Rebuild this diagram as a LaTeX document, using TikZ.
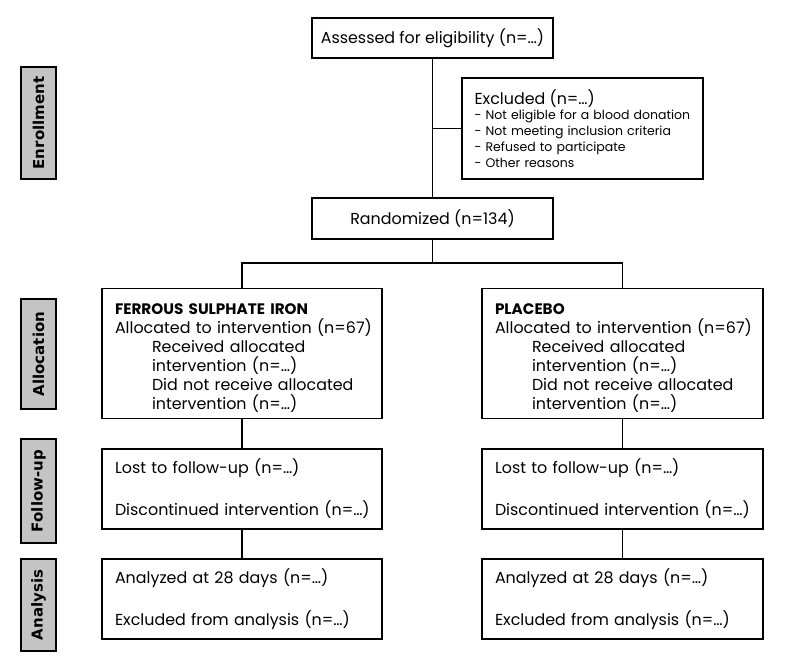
\documentclass[tikz,border=0pt]{standalone}
\usepackage{fontspec}
\setmainfont{Poppins}
\newfontfamily\labfont{DejaVu Sans}
\definecolor{labgray}{HTML}{C4C4C4}
\newcommand\oneline[1]{\mbox{#1}}
\newcommand\exsz{\fontsize{12.5}{16}\selectfont}
\newcommand\mainsz{\fontsize{15.9}{19}\selectfont}
\begin{document}
\begin{tikzpicture}[x=1pt,y=-1pt,
  box/.style={draw, line width=1.5pt, inner sep=0pt, font=\mainsz},
  side/.style={draw, line width=2pt, fill=labgray, inner sep=0pt, rotate=90,
    font=\labfont\bfseries\fontsize{15}{17}\selectfont},
  conn/.style={line width=1.5pt}]
\useasboundingbox (0,0) rectangle (785,669);
\fill[white] (0,0) rectangle (785,669);

% side labels
\node[side, minimum width=112pt, minimum height=35pt] (lenr) at (38.5,123) {Enrollment};
\node[side, minimum width=110pt, minimum height=35pt] (lall) at (38.5,354) {Allocation};
\node[side, minimum width=104pt, minimum height=35pt] (lfol) at (38.5,491) {Follow-up};
\node[side, minimum width=92pt, minimum height=35pt] (lana) at (38.5,605) {Analysis};

% enrollment
\node[box, minimum width=241pt, minimum height=40pt, align=center] (ass) at (432.5,38) {Assessed for eligibility (n=…)};
\node[box, minimum width=241pt, minimum height=101pt, text width=216pt, align=left, font=\exsz] (exc) at (582.5,128.5)
  {\oneline{\mainsz Excluded (n=…)}\\[-1pt]
   \oneline{- Not eligible for a blood donation}\\
   \oneline{- Not meeting inclusion criteria}\\
   \oneline{- Refused to participate}\\
   \oneline{- Other reasons}};
\node[box, minimum width=241pt, minimum height=41pt, align=center] (ran) at (432.5,218.5) {Randomized (n=134)};

% allocation
\node[box, minimum width=280pt, minimum height=130pt, text width=254pt, align=left] (alL) at (242,353.5)
  {\oneline{\rule{0pt}{20pt}\fontsize{15.2}{19}\selectfont\bfseries FERROUS SULPHATE IRON}\\
   \oneline{Allocated to intervention (n=67)}\\
   \oneline{\hspace*{37pt}Received allocated}\\
   \oneline{\hspace*{37pt}intervention (n=…)}\\
   \oneline{\hspace*{37pt}Did not receive allocated}\\
   \oneline{\hspace*{37pt}intervention (n=…)}};
\node[box, minimum width=281pt, minimum height=130pt, text width=255pt, align=left] (alR) at (622.5,353.5)
  {\oneline{\rule{0pt}{20pt}\fontsize{15.2}{19}\selectfont\bfseries PLACEBO}\\
   \oneline{Allocated to intervention (n=67)}\\
   \oneline{\hspace*{37pt}Received allocated}\\
   \oneline{\hspace*{37pt}intervention (n=…)}\\
   \oneline{\hspace*{37pt}Did not receive allocated}\\
   \oneline{\hspace*{37pt}intervention (n=…)}};

% follow-up
\node[box, minimum width=280pt, minimum height=80pt, text width=254pt, align=left] (foL) at (242,489)
  {\oneline{Lost to follow-up (n=…)}\\[23pt]\oneline{Discontinued intervention (n=…)}};
\node[box, minimum width=281pt, minimum height=80pt, text width=255pt, align=left] (foR) at (622.5,489)
  {\oneline{Lost to follow-up (n=…)}\\[23pt]\oneline{Discontinued intervention (n=…)}};

% analysis
\node[box, minimum width=280pt, minimum height=80pt, text width=254pt, align=left] (anL) at (242,599)
  {\oneline{Analyzed at 28 days (n=…)}\\[23pt]\oneline{Excluded from analysis (n=…)}};
\node[box, minimum width=281pt, minimum height=80pt, text width=255pt, align=left] (anR) at (622.5,599)
  {\oneline{Analyzed at 28 days (n=…)}\\[23pt]\oneline{Excluded from analysis (n=…)}};

% connectors
\coordinate (split) at (432.5,263);
\draw[conn] (ass.south) -- (ran.north);
\draw[conn] (ass.south |- exc.west) -- (exc.west);
\draw[conn] (ran.south) -- (split);
\draw[conn] (split) -| (alL.north);
\draw[conn] (split) -| (alR.north);
\draw[conn] (alL.south) -- (foL.north);
\draw[conn] (alR.south) -- (foR.north);
\draw[conn] (foL.south) -- (anL.north);
\draw[conn] (foR.south) -- (anR.north);
\end{tikzpicture}
\end{document}
